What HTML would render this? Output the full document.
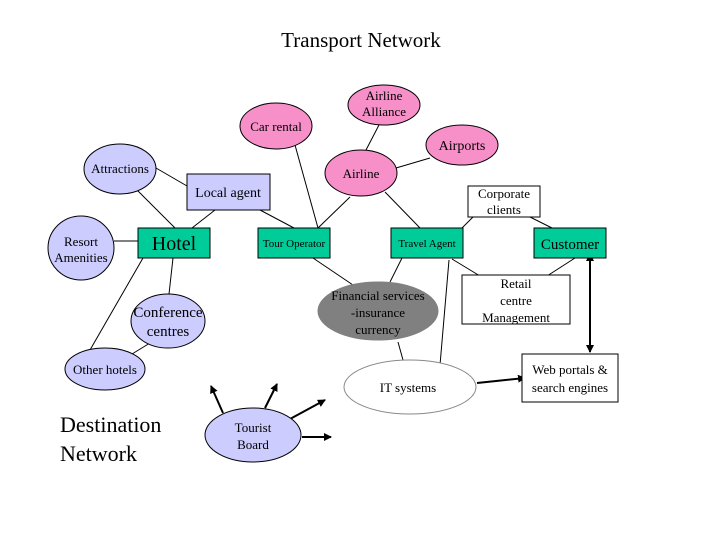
<!DOCTYPE html>
<html><head><meta charset="utf-8"><style>
html,body{margin:0;padding:0;background:#fff}
svg{display:block}
text{font-family:"Liberation Serif",serif;fill:#000}
</style></head><body>
<svg width="720" height="540" viewBox="0 0 720 540" xmlns="http://www.w3.org/2000/svg">
<defs>
<marker id="ah" markerWidth="8" markerHeight="8" refX="7" refY="4" orient="auto" markerUnits="userSpaceOnUse">
<path d="M0,0 L8,4 L0,8 z" fill="#000"/></marker>
<marker id="ahs" markerWidth="8" markerHeight="8" refX="1" refY="4" orient="auto-start-reverse" markerUnits="userSpaceOnUse">
<path d="M0,0 L8,4 L0,8 z" fill="#000"/></marker>
</defs>
<g stroke="#000" stroke-width="1" fill="none">
<line x1="156" y1="168" x2="187" y2="186"/>
<line x1="133" y1="186" x2="175" y2="228"/>
<line x1="215" y1="210" x2="192" y2="228"/>
<line x1="260" y1="210" x2="294" y2="228"/>
<line x1="114" y1="241" x2="138" y2="241"/>
<line x1="295" y1="145" x2="318" y2="228"/>
<line x1="350" y1="197" x2="318" y2="228"/>
<line x1="379" y1="125" x2="366" y2="150"/>
<line x1="396" y1="168" x2="430" y2="158"/>
<line x1="385" y1="192" x2="420" y2="228"/>
<line x1="473" y1="217" x2="462" y2="228"/>
<line x1="530" y1="217" x2="552" y2="228"/>
<line x1="402" y1="258" x2="390" y2="282"/>
<line x1="313" y1="258" x2="353" y2="285"/>
<line x1="452" y1="259" x2="480" y2="276"/>
<line x1="575" y1="258" x2="547" y2="276"/>
<line x1="449" y1="260" x2="440" y2="365"/>
<line x1="398" y1="342" x2="403" y2="360"/>
<line x1="143" y1="258" x2="90" y2="350"/>
<line x1="173" y1="258" x2="169" y2="294"/>
<line x1="150" y1="343" x2="132" y2="354"/>
</g>
<g stroke="#000" stroke-width="2" fill="none">
<line x1="223" y1="413" x2="211" y2="386" marker-end="url(#ah)"/>
<line x1="265" y1="408" x2="277" y2="384" marker-end="url(#ah)"/>
<line x1="290" y1="419" x2="325" y2="400" marker-end="url(#ah)"/>
<line x1="302" y1="437" x2="331" y2="437" marker-end="url(#ah)"/>
<line x1="477" y1="383" x2="525" y2="378" marker-end="url(#ah)"/>
<line x1="590" y1="260" x2="590" y2="352" marker-end="url(#ah)" marker-start="url(#ahs)"/>
</g>
<g stroke="#000" stroke-width="1">
<ellipse cx="276" cy="126" rx="36" ry="23" fill="#f78fc8"/>
<ellipse cx="384" cy="105" rx="36" ry="20" fill="#f78fc8"/>
<ellipse cx="462" cy="145" rx="36" ry="20" fill="#f78fc8"/>
<ellipse cx="361" cy="173" rx="36" ry="23" fill="#f78fc8"/>
<ellipse cx="120" cy="169" rx="36" ry="25" fill="#ccccff"/>
<ellipse cx="81" cy="248" rx="33" ry="32" fill="#ccccff"/>
<ellipse cx="168" cy="321" rx="37" ry="27" fill="#ccccff"/>
<ellipse cx="105" cy="369" rx="40" ry="21" fill="#ccccff"/>
<ellipse cx="253" cy="435" rx="48" ry="27" fill="#ccccff"/>
<ellipse cx="378" cy="311" rx="60" ry="29" fill="#808080" stroke="#808080"/>
<ellipse cx="410" cy="387" rx="66" ry="27" fill="#fff" stroke="#888"/>
<rect x="187" y="174" width="83" height="36" fill="#ccccff"/>
<rect x="138" y="228" width="72" height="30" fill="#00cc99"/>
<rect x="258" y="228" width="72" height="30" fill="#00cc99"/>
<rect x="391" y="228" width="72" height="30" fill="#00cc99"/>
<rect x="534" y="228" width="72" height="30" fill="#00cc99"/>
<rect x="468" y="186" width="72" height="31" fill="#fff"/>
<rect x="462" y="275" width="108" height="49" fill="#fff"/>
<rect x="522" y="354" width="96" height="48" fill="#fff"/>
</g>
<g text-anchor="middle" font-size="13">
<text x="361" y="47" font-size="21">Transport Network</text>
<text x="276" y="131">Car rental</text>
<text x="384" y="100">Airline</text>
<text x="384" y="116">Alliance</text>
<text x="462" y="150" font-size="14">Airports</text>
<text x="361" y="178">Airline</text>
<text x="120" y="173">Attractions</text>
<text x="228" y="197" font-size="14">Local agent</text>
<text x="504" y="198">Corporate</text>
<text x="504" y="214">clients</text>
<text x="81" y="246">Resort</text>
<text x="81" y="262">Amenities</text>
<text x="174" y="250" font-size="20">Hotel</text>
<text x="294" y="247" font-size="11">Tour Operator</text>
<text x="427" y="247" font-size="11">Travel Agent</text>
<text x="570" y="249" font-size="15">Customer</text>
<text x="516" y="288">Retail</text>
<text x="516" y="305">centre</text>
<text x="516" y="322">Management</text>
<text x="378" y="300">Financial services</text>
<text x="378" y="317">-insurance</text>
<text x="378" y="334">currency</text>
<text x="168" y="317" font-size="15">Conference</text>
<text x="168" y="336" font-size="15">centres</text>
<text x="105" y="374">Other hotels</text>
<text x="408" y="392">IT systems</text>
<text x="570" y="374">Web portals &amp;</text>
<text x="570" y="392">search engines</text>
<text x="253" y="432">Tourist</text>
<text x="253" y="449">Board</text>
</g>
<text x="60" y="432" font-size="22">Destination</text>
<text x="60" y="461" font-size="22">Network</text>
</svg>
</body></html>
